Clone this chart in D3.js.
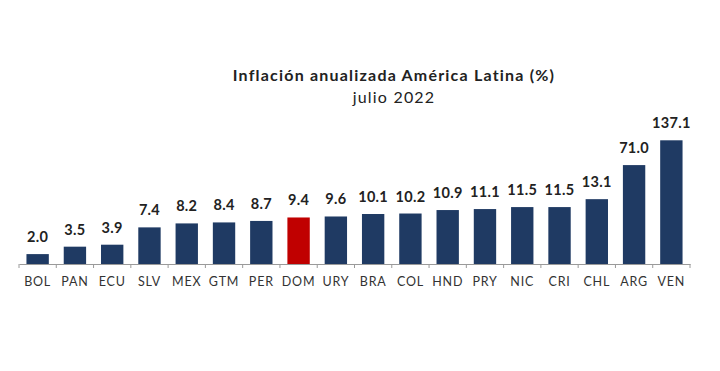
<!DOCTYPE html>
<html>
<head>
<meta charset="utf-8">
<script src="https://cdn.jsdelivr.net/npm/d3@7"></script>
<style>
  body { margin: 0; background: #fff; }
  svg { display: block; font-family: Lato, sans-serif; }
</style>
</head>
<body>
<div id="chart"></div>
<script>
const countries = ['BOL', 'PAN', 'ECU', 'SLV', 'MEX', 'GTM', 'PER', 'DOM', 'URY', 'BRA', 'COL', 'HND', 'PRY', 'NIC', 'CRI', 'CHL', 'ARG', 'VEN'];
const inflation = [2.0, 3.5, 3.9, 7.4, 8.2, 8.4, 8.7, 9.4, 9.6, 10.1, 10.2, 10.9, 11.1, 11.5, 11.5, 13.1, 71.0, 137.1];
const highlight = ['DOM'];
const titleLines = ['Inflación anualizada América Latina (%)', 'julio 2022'];

const width = 720;
const height = 371;
const baseY = 264;

const data = countries.map((c, i) => ({ country: c, value: inflation[i] }));

const svg = d3.select('#chart').append('svg')
  .attr('width', width).attr('height', height);

// bands span the axis line, bars take 60% of each step
const x = d3.scaleBand()
  .domain(countries)
  .range([19, 690])
  .paddingInner(0.4)
  .paddingOuter(0.2);

// broken scale: linear up to ~16, compressed above (ARG, VEN)
const y = d3.scaleLinear()
  .domain([0, 15.8, 137.1])
  .range([baseY, baseY - 78.2, baseY - 123.7]);

svg.append('g').selectAll('rect').data(data).join('rect')
  .attr('x', (d) => x(d.country))
  .attr('y', (d) => y(d.value))
  .attr('width', x.bandwidth())
  .attr('height', (d) => baseY - y(d.value))
  .attr('fill', (d) => highlight.includes(d.country) ? '#c00000' : '#1f3a63');

svg.append('g').selectAll('text').data(data).join('text')
  .attr('x', (d) => x(d.country) + x.bandwidth() / 2)
  .attr('y', (d) => y(d.value) - 12)
  .attr('text-anchor', 'middle')
  .attr('font-size', 14.5)
  .attr('font-weight', 700)
  .attr('letter-spacing', 0.3)
  .attr('fill', '#222')
  .text((d) => d.value.toFixed(1));

// category axis
const axis = svg.append('g').attr('transform', `translate(0,${baseY})`)
  .call(d3.axisBottom(x).tickSize(0).tickPadding(13));
axis.select('.domain').attr('stroke', '#9a9a9a').attr('stroke-width', 1.2);
axis.selectAll('text')
  .attr('font-family', 'Lato, sans-serif')
  .attr('font-size', 12.5)
  .attr('letter-spacing', 0.8)
  .attr('fill', '#333');

// boundary ticks between categories
const gap = x.step() * x.paddingInner() / 2;
const bounds = countries.map((c) => x(c) - gap).concat([x(countries[countries.length - 1]) + x.bandwidth() + gap]);
axis.selectAll('line.sep').data(bounds).join('line')
  .attr('class', 'sep')
  .attr('x1', (d) => d).attr('x2', (d) => d)
  .attr('y1', 0).attr('y2', 4)
  .attr('stroke', '#9a9a9a');

svg.append('g').selectAll('text').data(titleLines).join('text')
  .attr('x', 394)
  .attr('y', (d, i) => 81 + i * 22)
  .attr('text-anchor', 'middle')
  .attr('font-size', 16)
  .attr('font-weight', (d, i) => i === 0 ? 700 : 400)
  .attr('letter-spacing', 1.2)
  .attr('fill', '#222')
  .text((d) => d);
</script>
</body>
</html>
